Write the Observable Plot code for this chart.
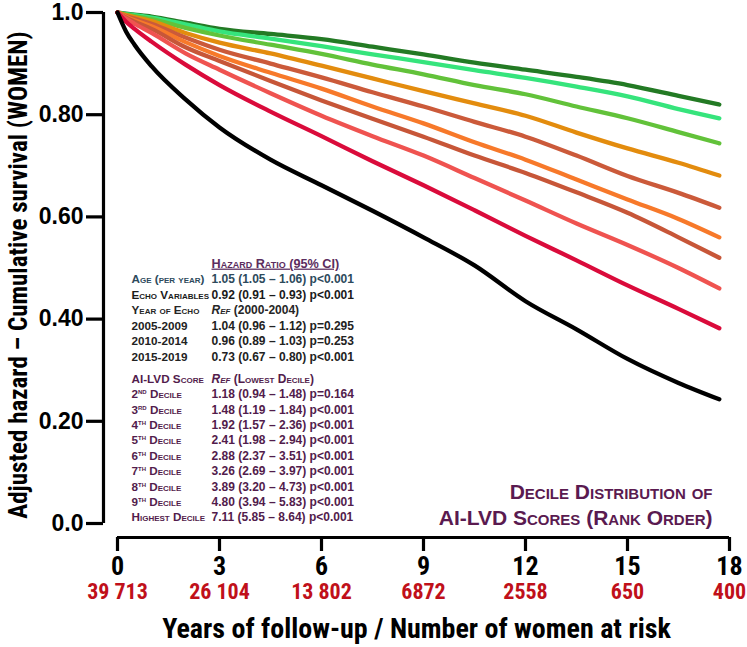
<!DOCTYPE html>
<html><head><meta charset="utf-8">
<script src="https://cdn.jsdelivr.net/npm/d3@7"></script>
<script src="https://cdn.jsdelivr.net/npm/@observablehq/plot@0.6"></script>
<style>
body{margin:0;background:#fff;}
#chart{width:747px;height:647px;}
#chart svg{font-family:"Liberation Sans",Arial,sans-serif;}
</style></head><body><div id="chart"></div>
<script>
// ---- data ----
const years = [0, 0.25, 0.5, 1, 2, 3, 4.5, 6, 7.5, 9, 10.5, 12, 13.5, 15, 16.5, 17.7];
const deciles = ["Lowest decile","2nd decile","3rd decile","4th decile","5th decile","6th decile","7th decile","8th decile","9th decile","Highest decile"];
const decileColors = ["#237a24","#36e47c","#62c23a","#e38c0e","#cb5a3a","#f7792a","#c75638","#ef5350","#da0b3b","#000000"];
const survLowest  = [1, 0.998, 0.996, 0.992, 0.980, 0.968, 0.958, 0.948, 0.933, 0.918, 0.902, 0.888, 0.874, 0.858, 0.837, 0.820];
const surv2nd     = [1, 0.997, 0.995, 0.990, 0.977, 0.963, 0.949, 0.934, 0.918, 0.903, 0.887, 0.872, 0.855, 0.836, 0.811, 0.793];
const surv3rd     = [1, 0.996, 0.993, 0.987, 0.970, 0.955, 0.937, 0.919, 0.898, 0.879, 0.858, 0.840, 0.816, 0.793, 0.766, 0.744];
const surv4th     = [1, 0.995, 0.991, 0.983, 0.960, 0.941, 0.920, 0.896, 0.871, 0.846, 0.822, 0.798, 0.765, 0.734, 0.706, 0.681];
const surv5th     = [1, 0.993, 0.988, 0.978, 0.951, 0.927, 0.900, 0.873, 0.844, 0.816, 0.786, 0.757, 0.720, 0.680, 0.647, 0.618];
const surv6th     = [1, 0.992, 0.985, 0.973, 0.942, 0.915, 0.882, 0.851, 0.816, 0.783, 0.746, 0.712, 0.673, 0.634, 0.596, 0.560];
const surv7th     = [1, 0.990, 0.982, 0.968, 0.932, 0.905, 0.866, 0.828, 0.792, 0.757, 0.720, 0.686, 0.648, 0.608, 0.560, 0.520];
const surv8th     = [1, 0.988, 0.978, 0.960, 0.920, 0.888, 0.842, 0.798, 0.758, 0.720, 0.676, 0.632, 0.587, 0.545, 0.500, 0.460];
const surv9th     = [1, 0.982, 0.968, 0.943, 0.898, 0.858, 0.806, 0.758, 0.709, 0.662, 0.613, 0.563, 0.515, 0.466, 0.420, 0.382];
const survHighest = [1, 0.963, 0.937, 0.895, 0.830, 0.775, 0.712, 0.662, 0.612, 0.560, 0.505, 0.435, 0.380, 0.322, 0.275, 0.243];

const xTicks = [0, 3, 6, 9, 12, 15, 18];
const atRisk = ["39 713", "26 104", "13 802", "6872", "2558", "650", "400"];
const yTicks = [0, 0.2, 0.4, 0.6, 0.8, 1.0];
const yTickLabels = ["0.0", "0.20", "0.40", "0.60", "0.80", "1.0"];

const tableHeader = "Hazard Ratio (95% CI)";
const covLabels = ["Age (per year)", "Echo Variables", "Year of Echo", "2005-2009", "2010-2014", "2015-2019"];
const covValues = ["1.05 (1.05 – 1.06) p<0.001", "0.92 (0.91 – 0.93) p<0.001", "Ref (2000-2004)", "1.04 (0.96 – 1.12) p=0.295", "0.96 (0.89 – 1.03) p=0.253", "0.73 (0.67 – 0.80) p<0.001"];
const covColors = ["#2d4a5c", "#1a1a1a", "#262626", "#222222", "#222222", "#222222"];
const decLabels = ["AI-LVD Score", "2nd Decile", "3rd Decile", "4th Decile", "5th Decile", "6th Decile", "7th Decile", "8th Decile", "9th Decile", "Highest Decile"];
const decValues = ["Ref (Lowest Decile)", "1.18 (0.94 – 1.48) p=0.164", "1.48 (1.19 – 1.84) p<0.001", "1.92 (1.57 – 2.36) p<0.001", "2.41 (1.98 – 2.94) p<0.001", "2.88 (2.37 – 3.51) p<0.001", "3.26 (2.69 – 3.97) p<0.001", "3.89 (3.20 – 4.73) p<0.001", "4.80 (3.94 – 5.83) p<0.001", "7.11 (5.85 – 8.64) p<0.001"];
const decColor = "#521c4c";
const legendLines = ["Decile Distribution of", "AI-LVD Scores (Rank Order)"];
const xTitle = "Years of follow-up / Number of women at risk";
const yTitle = "Adjusted hazard – Cumulative survival (WOMEN)";

// ---- build table ----
const survAll = [survLowest, surv2nd, surv3rd, surv4th, surv5th, surv6th, surv7th, surv8th, surv9th, survHighest];
const curves = survAll.flatMap((arr, k) => arr.map((v, i) => ({decile: deciles[k], year: years[i], surv: v})));
const riskRows = xTicks.map((t, i) => ({year: t, n: atRisk[i]}));

const narrow = "'Liberation Sans Narrow','Arial Narrow','Roboto Condensed',sans-serif";
const M = {left: 103, top: 12};
const tableMarks = [];
const labelX = 131, valueX = 211;
function row(label, value, color, y, headerStyle) {
  if (label) tableMarks.push(Plot.text([label], {frameAnchor: "top-left", dx: labelX - M.left, dy: y - M.top, text: d => d, textAnchor: "start", lineAnchor: "middle", fill: color, fontSize: 11.7, fontWeight: "bold", fontVariant: "small-caps"}));
  if (value) tableMarks.push(Plot.text([value], {frameAnchor: "top-left", dx: valueX - M.left, dy: y - M.top, text: d => d, textAnchor: "start", lineAnchor: "middle", fill: color, fontSize: headerStyle ? 12.7 : 12, fontWeight: "bold", fontVariant: headerStyle ? "small-caps" : "normal"}));
}
row(null, tableHeader, "#5b2d5e", 263, true);
covLabels.forEach((l, i) => row(l, covValues[i], covColors[i], 279 + 15.5 * i, false));
decLabels.forEach((l, i) => row(l, decValues[i], decColor, 378.5 + 15.4 * i, false));

const chart = Plot.plot({
  width: 747, height: 647,
  marginLeft: 103, marginRight: 18, marginTop: 12, marginBottom: 110,
  insetLeft: 14, insetBottom: 14,
  x: {domain: [0, 18]},
  y: {domain: [0, 1]},
  color: {domain: deciles, range: decileColors},
  marks: [
    Plot.ruleX([0], {y1: 0, y2: 1, dx: -14, strokeWidth: 3.2}),
    Plot.ruleY([0], {x1: 0, x2: 18, dy: 14, strokeWidth: 3.2}),
    Plot.axisY({ticks: yTicks, tickFormat: (d, i) => yTickLabels[i], tickSize: 17, tickPadding: 3, strokeWidth: 3.2, fontSize: 23, fontWeight: "bold", fill: "#000", label: null}),
    Plot.axisX({ticks: xTicks, tickSize: 14, tickPadding: 5, strokeWidth: 3.2, fontSize: 26, fontWeight: "bold", fill: "#000", fontFamily: narrow, label: null}),
    Plot.text(riskRows, {x: "year", text: "n", frameAnchor: "bottom", dy: 61, fill: "#c0101a", fontSize: 22, fontWeight: "bold", fontFamily: narrow}),
    Plot.text([xTitle], {text: d => d, frameAnchor: "bottom", dy: 100, fontSize: 28, fontWeight: "bold", fontFamily: narrow, fill: "#000"}),
    Plot.text([yTitle], {text: d => d, frameAnchor: "left", dx: -85, rotate: -90, textAnchor: "middle", fontSize: 25, fontWeight: "bold", fontFamily: narrow, fill: "#000"}),
    ...tableMarks,
    Plot.text([legendLines[0]], {text: d => d, frameAnchor: "top-left", dx: 712 - M.left, dy: 492 - M.top, textAnchor: "end", lineAnchor: "middle", fill: "#5a1a50", fontSize: 21, fontWeight: "bold", fontVariant: "small-caps"}),
    Plot.text([legendLines[1]], {text: d => d, frameAnchor: "top-left", dx: 712 - M.left, dy: 518 - M.top, textAnchor: "end", lineAnchor: "middle", fill: "#5a1a50", fontSize: 21, fontWeight: "bold", fontVariant: "small-caps"}),
    Plot.line(curves, {x: "year", y: "surv", z: "decile", stroke: "decile", strokeWidth: 4.3, curve: "monotone-x"})
  ]
});
document.getElementById("chart").appendChild(chart);

// ---- text styling touches (underline, italic "Ref", superscripts) ----
const svg = d3.select(chart);
svg.selectAll("text").each(function() {
  const t = this.textContent;
  const el = d3.select(this);
  if (t === tableHeader) el.attr("text-decoration", "underline").style("text-decoration", "underline");
  let m = t.match(/^Ref (.*)$/);
  if (m) {
    el.text(null);
    el.append("tspan").attr("font-style", "italic").attr("font-variant", "small-caps").text("Ref");
    el.append("tspan").attr("font-variant", "small-caps").text(" " + m[1]);
  }
  m = t.match(/^(\d)(nd|rd|th) (Decile)$/);
  if (m) {
    el.text(null);
    el.append("tspan").text(m[1]);
    el.append("tspan").attr("font-size", 8).attr("dy", -4).text(m[2]);
    el.append("tspan").attr("dy", 4).text(" " + m[3]);
  }
});
</script>
</body></html>
